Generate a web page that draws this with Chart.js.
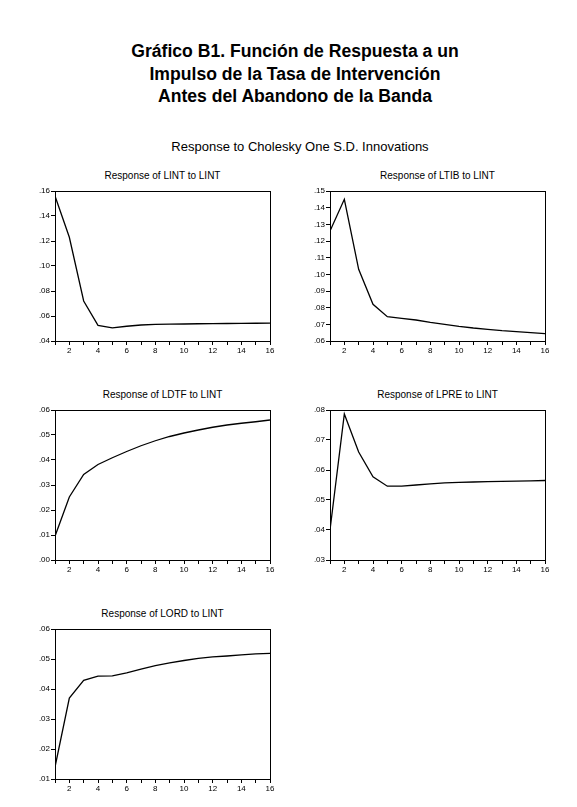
<!DOCTYPE html>
<html>
<head>
<meta charset="utf-8">
<script src="https://cdn.jsdelivr.net/npm/chart.js@4/dist/chart.umd.min.js"></script>
<style>
    body { margin: 0; background: #fff; width: 577px; height: 807px; position: relative; font-family: "Liberation Sans", Arial, sans-serif; overflow: hidden; }
    .title { position: absolute; left: 0; width: 590px; text-align: center; font-weight: bold; font-size: 17.6px; line-height: 22.5px; top: 40px; color: #000; }
    .subtitle { position: absolute; left: 0; width: 600px; text-align: center; font-size: 13px; top: 139px; color: #000; }
    .ctitle { position: absolute; font-size: 10px; text-align: center; color: #000; }
    canvas { position: absolute; }
</style>
</head>
<body>
<div class="title">Gráfico B1. Función de Respuesta a un<br>Impulso de la Tasa de Intervención<br>Antes del Abandono de la Banda</div>
<div class="subtitle">Response to Cholesky One S.D. Innovations</div>

<script>
// Horizon (periods)
const periods = [1, 2, 3, 4, 5, 6, 7, 8, 9, 10, 11, 12, 13, 14, 15, 16];

// Responses to a LINT shock
const lintResp = [0.156, 0.123, 0.072, 0.0525, 0.0505, 0.0518, 0.0528, 0.0533, 0.0535, 0.0536, 0.0538, 0.0539, 0.054, 0.0541, 0.0542, 0.0543];
const ltibResp = [0.126, 0.145, 0.103, 0.082, 0.0746, 0.0736, 0.0726, 0.0712, 0.0700, 0.0688, 0.0678, 0.0670, 0.0662, 0.0656, 0.0650, 0.0644];
const ldtfResp = [0.0095, 0.0252, 0.0342, 0.0382, 0.0409, 0.0434, 0.0457, 0.0477, 0.0494, 0.0508, 0.0520, 0.0531, 0.0540, 0.0547, 0.0553, 0.0560];
const lpreResp = [0.040, 0.0787, 0.066, 0.0577, 0.0546, 0.0546, 0.0550, 0.0554, 0.0557, 0.0559, 0.0560, 0.0561, 0.0562, 0.0563, 0.0564, 0.0565];
const lordResp = [0.014, 0.037, 0.0429, 0.0443, 0.0444, 0.0454, 0.0466, 0.0478, 0.0487, 0.0495, 0.0502, 0.0507, 0.0510, 0.0514, 0.0517, 0.0519];

// Panel titles and y-axis ranges
const panelTitles = ['Response of LINT to LINT', 'Response of LTIB to LINT', 'Response of LDTF to LINT', 'Response of LPRE to LINT', 'Response of LORD to LINT'];
const yMins = [0.04, 0.06, 0.00, 0.03, 0.01];
const yMaxs = [0.16, 0.15, 0.06, 0.08, 0.06];
const ySteps = [0.02, 0.01, 0.01, 0.01, 0.01];

// Plot area boxes in page pixels: left, top, right, bottom
const panelBoxes = [
    [55, 191, 270, 341],
    [330, 191, 545, 341],
    [55, 410, 270, 560],
    [330, 410, 545, 560],
    [55, 629, 270, 779]
];

const seriesList = [lintResp, ltibResp, ldtfResp, lpreResp, lordResp];

const AXIS_W = 35;
const AXIS_H = 20;
const PAD_T = 6;
const PAD_R = 12;

// draws the frame around the plot area
const framePlugin = {
    id: 'frame',
    afterDraw(chart) {
        const a = chart.chartArea;
        const ctx = chart.ctx;
        ctx.save();
        ctx.strokeStyle = '#000';
        ctx.lineWidth = 1;
        ctx.strokeRect(Math.round(a.left) + 0.5, Math.round(a.top) + 0.5, Math.round(a.right - a.left), Math.round(a.bottom - a.top));
        ctx.restore();
    }
};

function formatY(v) {
    return v.toFixed(2).replace(/^0/, '');
}

function makePanel(i) {
    const [l, t, r, b] = panelBoxes[i];
    const canvas = document.createElement('canvas');
    const w = (r - l) + AXIS_W + PAD_R;
    const h = (b - t) + PAD_T + AXIS_H;
    canvas.style.left = (l - AXIS_W) + 'px';
    canvas.style.top = (t - PAD_T) + 'px';
    canvas.style.width = w + 'px';
    canvas.style.height = h + 'px';
    canvas.width = w;
    canvas.height = h;
    document.body.appendChild(canvas);

    const title = document.createElement('div');
    title.className = 'ctitle';
    title.textContent = panelTitles[i];
    title.style.left = l + 'px';
    title.style.width = (r - l) + 'px';
    title.style.top = (t - 21) + 'px';
    document.body.appendChild(title);

    new Chart(canvas, {
        type: 'line',
        data: {
            datasets: [{
                data: periods.map((p, k) => ({ x: p, y: seriesList[i][k] })),
                borderColor: '#000',
                borderWidth: 1.3,
                pointRadius: 0,
                tension: 0,
                fill: false
            }]
        },
        options: {
            responsive: false,
            animation: false,
            devicePixelRatio: 1,
            layout: { padding: { top: PAD_T, right: PAD_R, left: 0, bottom: 0 } },
            plugins: { legend: { display: false }, tooltip: { enabled: false }, title: { display: false } },
            scales: {
                x: {
                    type: 'linear',
                    min: 1,
                    max: 16,
                    afterFit: (s) => { s.height = AXIS_H; },
                    grid: { drawOnChartArea: false, drawTicks: true, tickLength: 4, color: '#000', lineWidth: 1 },
                    border: { display: true, color: '#000', width: 1 },
                    ticks: {
                        stepSize: 1,
                        autoSkip: false,
                        maxRotation: 0,
                        padding: 1,
                        color: '#000',
                        font: { family: 'Liberation Sans', size: 8 },
                        callback: (v) => (v % 2 === 0 ? String(v) : '')
                    }
                },
                y: {
                    min: yMins[i],
                    max: yMaxs[i],
                    afterFit: (s) => { s.width = AXIS_W; },
                    grid: { drawOnChartArea: false, drawTicks: true, tickLength: 4, color: '#000', lineWidth: 1 },
                    border: { display: true, color: '#000', width: 1 },
                    ticks: {
                        stepSize: ySteps[i],
                        autoSkip: false,
                        padding: 1,
                        color: '#000',
                        font: { family: 'Liberation Sans', size: 8 },
                        callback: (v) => formatY(v)
                    }
                }
            }
        },
        plugins: [framePlugin]
    });
}

panelTitles.forEach((_, i) => makePanel(i));
</script>
</body>
</html>
